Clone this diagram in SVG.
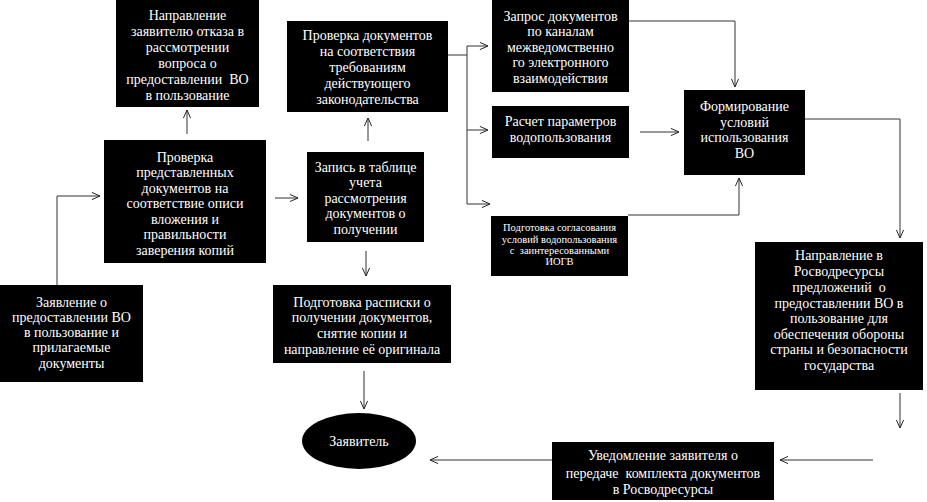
<svg xmlns="http://www.w3.org/2000/svg" width="927" height="502" viewBox="0 0 927 502">
<defs>
<marker id="arr" viewBox="0 0 10 10" refX="10" refY="5" markerWidth="9" markerHeight="9" markerUnits="userSpaceOnUse" orient="auto">
<path d="M1,1 L10,5 L1,9" fill="none" stroke="#222" stroke-width="1.1"/>
</marker>
</defs>
<style>
.box{fill:#000;}
.t{font-size:14px;fill:#fff;text-anchor:middle;}
.s{font-size:10.5px;fill:#fff;text-anchor:middle;}
.c{fill:none;stroke:#333;stroke-width:1;}
.a{fill:none;stroke:#333;stroke-width:1;marker-end:url(#arr);}
</style>
<rect width="927" height="502" fill="#fff"/>
<g id="connectors">
<polyline class="a" points="57,285 57,196 100,196"/>
<line class="a" x1="187" y1="134" x2="187" y2="110"/>
<line class="a" x1="275" y1="198" x2="298" y2="198"/>
<line class="a" x1="368" y1="141" x2="368" y2="118"/>
<line class="a" x1="366" y1="251" x2="366" y2="276"/>
<line class="a" x1="364" y1="371" x2="364" y2="409"/>
<polyline class="c" points="448,55 467,55"/>
<polyline class="c" points="467,46 467,204"/>
<line class="a" x1="467" y1="46" x2="488" y2="46"/>
<line class="a" x1="467" y1="130" x2="488" y2="130"/>
<line class="a" x1="467" y1="204" x2="490" y2="204"/>
<polyline class="a" points="629,21 735,21 735,87"/>
<line class="a" x1="640" y1="132" x2="679" y2="132"/>
<polyline class="a" points="628,215 739,215 739,178"/>
<polyline class="a" points="805,119 900,119 900,238"/>
<line class="a" x1="900" y1="393" x2="900" y2="428"/>
<line class="a" x1="873" y1="460" x2="780" y2="460"/>
<line class="a" x1="552" y1="460" x2="430" y2="460"/>
</g>
<g font-family="'Liberation Serif', 'Times New Roman', 'DejaVu Serif', serif">
<g id="n-otkaz">
<rect class="box" x="116" y="0" width="143" height="107"/>
<text class="t" x="187.5" y="19.5">Направление</text>
<text class="t" x="187.5" y="35.5">заявителю отказа в</text>
<text class="t" x="187.5" y="51.5">рассмотрении</text>
<text class="t" x="187.5" y="67.5">вопроса о</text>
<text class="t" x="187.5" y="83.5" xml:space="preserve">предоставлении  ВО</text>
<text class="t" x="187.5" y="99.5">в пользование</text>
</g>
<g id="n-proverka-zakon">
<rect class="box" x="287" y="21" width="161" height="91"/>
<text class="t" x="367.5" y="39.5">Проверка документов</text>
<text class="t" x="367.5" y="55.5">на соответствия</text>
<text class="t" x="367.5" y="71.5">требованиям</text>
<text class="t" x="367.5" y="87.5">действующего</text>
<text class="t" x="367.5" y="103.5">законодательства</text>
</g>
<g id="n-zapros">
<rect class="box" x="492" y="0" width="137" height="92"/>
<text class="t" x="560.5" y="20.5">Запрос документов</text>
<text class="t" x="560.5" y="36">по каналам</text>
<text class="t" x="560.5" y="51.5">межведомственно</text>
<text class="t" x="560.5" y="67">го электронного</text>
<text class="t" x="560.5" y="82.5">взаимодействия</text>
</g>
<g id="n-raschet">
<rect class="box" x="492" y="106" width="137" height="52"/>
<text class="t" x="560.5" y="125.5">Расчет параметров</text>
<text class="t" x="560.5" y="141.5">водопользования</text>
</g>
<g id="n-soglas">
<rect class="box" x="491" y="216" width="137" height="60"/>
<text class="s" x="559.5" y="231">Подготовка согласования</text>
<text class="s" x="559.5" y="243">условий водопользования</text>
<text class="s" x="559.5" y="254" xml:space="preserve">с  заинтересованными</text>
<text class="s" x="559.5" y="265">ИОГВ</text>
</g>
<g id="n-formir">
<rect class="box" x="684" y="90" width="121" height="85"/>
<text class="t" x="744.5" y="110.5">Формирование</text>
<text class="t" x="744.5" y="126.5">условий</text>
<text class="t" x="744.5" y="142">использования</text>
<text class="t" x="744.5" y="157.5">ВО</text>
</g>
<g id="n-proverka-opis">
<rect class="box" x="104" y="140" width="162" height="123"/>
<text class="t" x="185" y="161.5">Проверка</text>
<text class="t" x="185" y="177">представленных</text>
<text class="t" x="185" y="192.5">документов на</text>
<text class="t" x="185" y="208">соответствие описи</text>
<text class="t" x="185" y="223.5">вложения и</text>
<text class="t" x="185" y="239">правильности</text>
<text class="t" x="185" y="254.5">заверения копий</text>
</g>
<g id="n-zapis">
<rect class="box" x="307" y="152" width="117" height="90"/>
<text class="t" x="365.5" y="171.5">Запись в таблице</text>
<text class="t" x="365.5" y="187">учета</text>
<text class="t" x="365.5" y="202.5">рассмотрения</text>
<text class="t" x="365.5" y="218">документов о</text>
<text class="t" x="365.5" y="233.5">получении</text>
</g>
<g id="n-raspiska">
<rect class="box" x="273" y="285" width="178" height="78"/>
<text class="t" x="362" y="306.5">Подготовка расписки о</text>
<text class="t" x="362" y="322">получении документов,</text>
<text class="t" x="362" y="337.5">снятие копии и</text>
<text class="t" x="362" y="353.5">направление её оригинала</text>
</g>
<g id="n-zayavlenie">
<rect class="box" x="0" y="285" width="143" height="97"/>
<text class="t" x="71.5" y="306.5">Заявление о</text>
<text class="t" x="71.5" y="321.5">предоставлении ВО</text>
<text class="t" x="71.5" y="336.5">в пользование и</text>
<text class="t" x="71.5" y="352">прилагаемые</text>
<text class="t" x="71.5" y="368">документы</text>
</g>
<g id="n-zayavitel">
<ellipse class="box" cx="359" cy="441" rx="57" ry="28"/>
<text class="t" x="359" y="446">Заявитель</text>
</g>
<g id="n-rosvod">
<rect class="box" x="755" y="242" width="168" height="148"/>
<text class="t" x="839" y="259.5">Направление в</text>
<text class="t" x="839" y="275.5">Росводресурсы</text>
<text class="t" x="839" y="291.5" xml:space="preserve">предложений  о</text>
<text class="t" x="839" y="307.5">предоставлении ВО в</text>
<text class="t" x="839" y="322.5">пользование для</text>
<text class="t" x="839" y="338.5">обеспечения обороны</text>
<text class="t" x="839" y="353.5">страны и безопасности</text>
<text class="t" x="839" y="370">государства</text>
</g>
<g id="n-uvedoml">
<rect class="box" x="552" y="442" width="222" height="58"/>
<text class="t" x="663" y="460">Уведомление заявителя о</text>
<text class="t" x="663" y="477.5" xml:space="preserve">передаче  комплекта документов</text>
<text class="t" x="663" y="494">в Росводресурсы</text>
</g>
</g>
</svg>
